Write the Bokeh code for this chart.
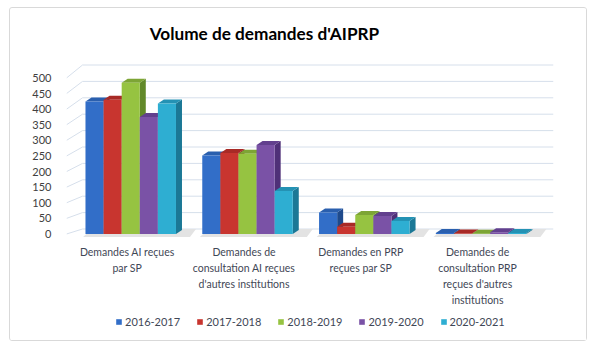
from bokeh.plotting import figure
from bokeh.models import ColumnDataSource, FixedTicker, Legend, LegendItem, Range1d
from bokeh.core.properties import value
from bokeh.embed import file_html
from bokeh.resources import INLINE

title_text = "Volume de demandes d'AIPRP"
categories = [
    "Demandes AI reçues\npar SP",
    "Demandes de\nconsultation AI reçues\nd'autres institutions",
    "Demandes en PRP\nreçues par SP",
    "Demandes de\nconsultation PRP\nreçues d'autres\ninstitutions",
]
series_names = ["2016-2017", "2017-2018", "2018-2019", "2019-2020", "2020-2021"]
values_2016_2017 = [425, 252, 69, 3]
values_2017_2018 = [430, 260, 23, 2]
values_2018_2019 = [485, 257, 61, 1]
values_2019_2020 = [375, 285, 58, 6]
values_2020_2021 = [418, 138, 42, 3]
series_values = [values_2016_2017, values_2017_2018, values_2018_2019,
                 values_2019_2020, values_2020_2021]
y_ticks = [0, 50, 100, 150, 200, 250, 300, 350, 400, 450, 500]

front_colors = ["#326ec8", "#c8352f", "#96c341", "#7a52a6", "#2eaed2"]
side_colors = ["#1e4a8c", "#8c2420", "#62892a", "#4f3078", "#1b7896"]
top_colors = ["#2a5fae", "#a82a26", "#7da535", "#62408e", "#2492b4"]

W, H = 578, 334
LEFT, RIGHT = 56, 35
X0, X1 = -0.02, 4.15
px_per_x = (W - LEFT - RIGHT) / (X1 - X0)
px_per_y = 0.312
zero_from_top = 225.5
Y1 = zero_from_top / px_per_y
Y0 = -(H - zero_from_top) / px_per_y

p = figure(width=W, height=H, output_backend="svg", toolbar_location=None,
           x_range=Range1d(X0, X1), y_range=Range1d(Y0, Y1),
           x_axis_location=None,
           min_border_left=LEFT, min_border_right=RIGHT, min_border_top=0,
           min_border_bottom=0)
p.styles = {"border": "1px solid #d9d9d9", "border-radius": "3px",
            "margin-left": "9px", "margin-top": "7px"}
p.outline_line_color = None
p.xgrid.grid_line_color = None
p.ygrid.grid_line_color = None
p.background_fill_color = "white"
p.border_fill_color = "white"

# title (inside the frame)
p.text(x=[X0 + (264 - 66) / px_per_x], y=[(zero_from_top - 25) / px_per_y],
       text=[title_text], text_align="center", text_baseline="middle",
       text_font=value("Lato"), text_font_size="17.2px", text_font_style="bold",
       text_color="#000000")

# wall gridlines (perspective)
wall_dx = 16 / px_per_x
gx, gy = [], []
for t in y_ticks:
    dy = (5 + 8 * t / 500) / px_per_y
    gx.append([X0, X0 + wall_dx, X1])
    gy.append([t, t + dy, t + dy])
p.multi_line(xs=gx, ys=gy, line_color="#d6dfeb", line_width=1)

# 3D bars
bw = 0.155
ddx = 6 / px_per_x
ddy = 4 / px_per_y
shift = 0.03

# floor shadows under each group
fx, fy = [], []
for i in range(len(categories)):
    gl = i + 0.5 + shift - 2.5 * bw
    gr = i + 0.5 + shift + 2.5 * bw
    fx.append([gl - 0.02, gr + 0.12, gr + 0.12 + ddx, gl + ddx])
    fy.append([-3 / px_per_y, -3 / px_per_y, ddy + 1 / px_per_y, ddy + 1 / px_per_y])
p.patches(xs=fx, ys=fy, fill_color="#e3e3e3", line_color=None)

renderers = []
for k, (vals, fc, sc, tc) in enumerate(zip(series_values, front_colors, side_colors, top_colors)):
    xs_c = [i + 0.5 + shift + (k - 2) * bw for i in range(len(categories))]
    side_xs, side_ys, top_xs, top_ys = [], [], [], []
    for xc, v in zip(xs_c, vals):
        r = xc + bw / 2
        l = xc - bw / 2
        side_xs.append([r, r, r + ddx, r + ddx])
        side_ys.append([0, v, v + ddy, ddy])
        top_xs.append([l, r, r + ddx, l + ddx])
        top_ys.append([v, v, v + ddy, v + ddy])
    p.patches(xs=side_xs, ys=side_ys, fill_color=sc, line_color=None)
    p.patches(xs=top_xs, ys=top_ys, fill_color=tc, line_color=None)
    src = ColumnDataSource(dict(x=xs_c, top=vals))
    rr = p.vbar(x="x", top="top", bottom=0, width=bw, source=src,
                fill_color=fc, line_color=None)
    renderers.append(rr)

# category labels
p.text(x=[i + 0.5 for i in range(len(categories))],
       y=[-12 / px_per_y] * len(categories), text=categories,
       text_align="center", text_baseline="top", text_line_height=1.33,
       text_font=value("Lato"), text_font_size="10.5px", text_color="#3f4756")

# y axis
p.yaxis.ticker = FixedTicker(ticks=y_ticks)
p.yaxis.axis_line_color = None
p.yaxis.major_tick_line_color = None
p.yaxis.minor_tick_line_color = None
p.yaxis.major_label_standoff = 9
p.yaxis.major_label_text_font = "Lato"
p.yaxis.major_label_text_font_size = "11px"
p.yaxis.major_label_text_color = "#404040"

legend = Legend(items=[LegendItem(label=n, renderers=[r]) for n, r in zip(series_names, renderers)],
                orientation="horizontal", location=(49, 14),
                label_text_font="Lato", label_text_font_size="11px",
                label_text_color="#3f4756", glyph_width=7, glyph_height=7,
                label_standoff=3, spacing=16, padding=4, margin=0,
                border_line_color=None, background_fill_alpha=0)
p.add_layout(legend, "center")

open("out.html", "w").write(file_html(p, INLINE))
